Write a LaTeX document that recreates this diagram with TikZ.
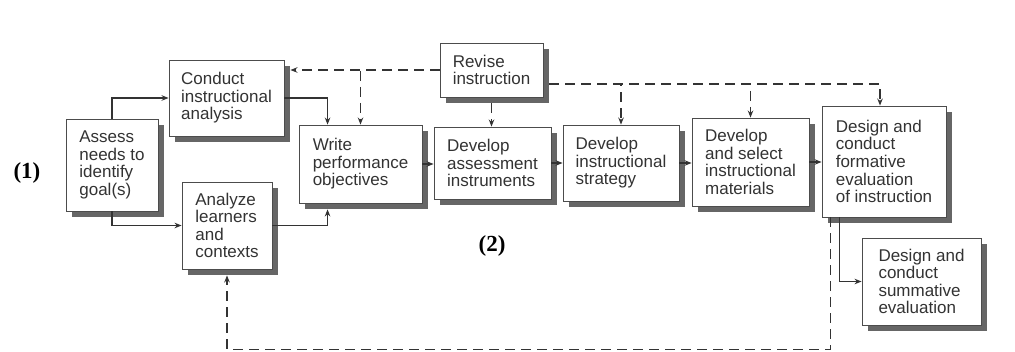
\documentclass[tikz,border=0pt]{standalone}
\usepackage{fontspec}
\setmainfont{Liberation Sans}
\newfontfamily\labelfont{Liberation Serif}
\usetikzlibrary{arrows.meta,shadows,calc}
\begin{document}
\begin{tikzpicture}[x=1pt,y=-1pt,
  box/.style={draw=black!70, line width=0.9pt, fill=white, align=left, inner sep=0pt,
    font=\fontsize{17}{17.6}\selectfont, text=black!80,
    drop shadow={shadow xshift=6pt, shadow yshift=-6pt, fill=black!60, opacity=1}},
  conn/.style={draw=black!80, line width=1.4pt, -{Stealth[length=7pt,width=5.5pt]}},
  dconn/.style={conn, dash pattern=on 10pt off 6pt},
  lab/.style={font=\labelfont\bfseries\fontsize{23}{23}\selectfont, text=black}]
\useasboundingbox (0,0) rectangle (1015,352);
\fill[white] (0,0) rectangle (1015,352);

\node[box, minimum width=92pt, minimum height=92pt] (assess) at (112,165) {Assess\\needs to\\identify\\goal(s)};
\node[box, minimum width=115pt, minimum height=76pt] (conduct) at (226.5,98) {Conduct\\instructional\\analysis};
\node[box, minimum width=90pt, minimum height=87pt] (analyze) at (227,225.5) {Analyze\\learners\\and\\contexts};
\node[box, minimum width=123pt, minimum height=78pt] (write) at (360.5,164) {Write\\performance\\objectives};
\node[box, minimum width=103pt, minimum height=54pt] (revise) at (491.5,70) {Revise\\instruction};
\node[box, minimum width=117pt, minimum height=72pt] (devassess) at (492.5,163) {Develop\\assessment\\instruments};
\node[box, minimum width=116pt, minimum height=76pt] (strategy) at (621,163) {Develop\\instructional\\strategy};
\node[box, minimum width=117pt, minimum height=88pt] (materials) at (750.5,162) {Develop\\and select\\instructional\\materials};
\node[box, minimum width=124pt, minimum height=111pt] (formative) at (884,161.5) {Design and\\conduct\\formative\\evaluation\\of instruction};
\node[box, minimum width=119pt, minimum height=87pt] (summative) at (921.5,281.5) {Design and\\conduct\\summative\\evaluation};

\node[lab] (l1) at (27,173) {(1)};
\node[lab] (l2) at (492,246) {(2)};

% solid connectors
\draw[conn] (assess.north) |- (conduct.west);
\draw[conn] (assess.south) |- (analyze.west);
\draw[conn] (conduct.east) -| ([xshift=29pt]write.north west);
\draw[conn] (analyze.east) -| ([xshift=29pt,yshift=-6pt]write.south west);
\draw[conn] (write.east) -- (write.east -| devassess.west);
\draw[conn] (devassess.east) -- (devassess.east -| strategy.west);
\draw[conn] (strategy.east) -- (strategy.east -| materials.west);
\draw[conn] (materials.east) -- (materials.east -| formative.west);
\draw[conn] ([xshift=18pt]formative.south west) |- (summative.west);

% dashed connectors
\draw[dconn] (revise.west) -- ($(conduct.east |- revise.west)+(6,0)$);
\draw[dconn] (revise.west) -| (write.north);
\draw[dconn] ([yshift=-6pt]revise.south) -- (revise.south |- devassess.north);
\coordinate (rr) at ($(revise.east)+(6,14)$);
\draw[dconn] (rr) -| (strategy.north);
\draw[dconn] (rr) -| (materials.north);
\draw[dconn] (rr) -| ([xshift=-4pt]formative.north);
\coordinate (lr) at ($(formative.south west)+(9,132)$);
\coordinate (ll) at (analyze.south |- lr);
\draw[dconn] ([xshift=9pt]formative.south west) -- (lr) -- (ll) -- ([yshift=-6pt]analyze.south);
\end{tikzpicture}
\end{document}
